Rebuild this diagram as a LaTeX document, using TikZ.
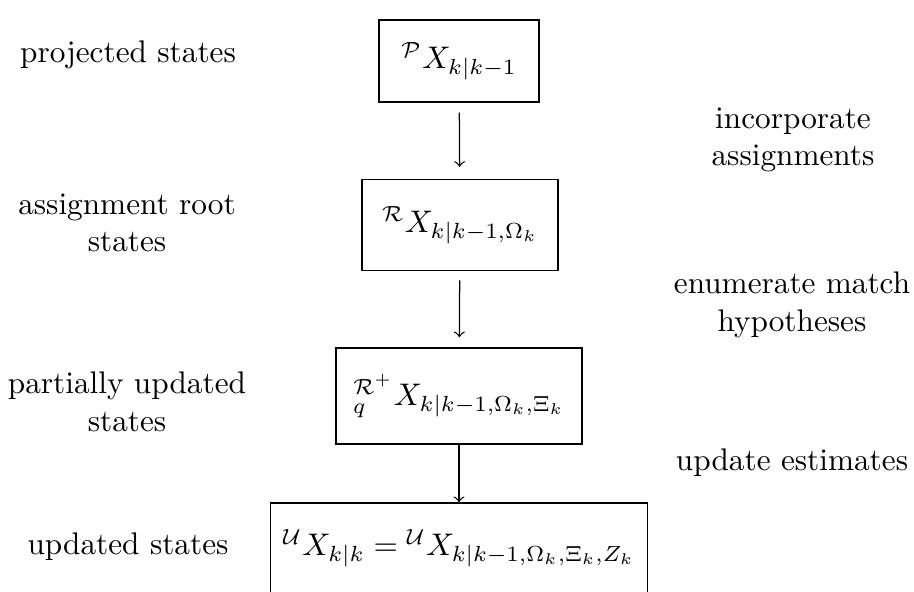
\documentclass[tikz,border=0pt]{standalone}
\usepackage{amsmath}
\begin{document}
\begin{tikzpicture}[x=0.32pt,y=-0.32pt,
  statebox/.style={draw, inner sep=2pt, line width=0.5pt},
  sidetext/.style={align=center, inner sep=0pt},
  flow/.style={->, line width=0.4pt}]
%fix picture size
\useasboundingbox (0,0) rectangle (914,591);
\clip (0,0) rectangle (914,591);

%draw state boxes
\node[statebox, minimum width=51.2pt, minimum height=26.2pt] (proj) at (459,61) {$ {}^{\mathcal{P}}X_{k|k-1} $};
\node[statebox, minimum width=62.7pt, minimum height=29.1pt] (root) at (460,225) {$ {}^{\mathcal{R}}X_{k|k-1,\Omega_k} $};
\node[statebox, minimum width=78.7pt, minimum height=30.7pt] (part) at (459,396) {$ {}^{\mathcal{R}^+}_{q}X_{k|k-1,\Omega_k,\Xi_k} $};
\node[statebox, minimum width=120.6pt, minimum height=28.8pt] (upd) at (459,548) {$ {}^{\mathcal{U}}X_{k|k} = {}^{\mathcal{U}}X_{k|k-1,\Omega_k,\Xi_k,Z_k} $};

%draw arrows
\draw[flow, shorten <=3.2pt, shorten >=3.8pt] (proj) -- (root);
\draw[flow, shorten <=2.9pt, shorten >=3.2pt] (root) -- (part);
\draw[flow] (part) -- (upd);

%left labels
\node[sidetext] (lproj) at (128,55) {projected states};
\node[sidetext] (lroot) at (127,223) {assignment root\\ states};
\node[sidetext] (lpart) at (127,402) {partially updated\\ states};
\node[sidetext] (lupd) at (128,547) {updated states};

%right labels
\node[sidetext] (rinc) at (793,140) {incorporate\\ assignments};
\node[sidetext] (renum) at (792,305) {enumerate match\\ hypotheses};
\node[sidetext] (rest) at (792,463) {update estimates};
\end{tikzpicture}
\end{document}
